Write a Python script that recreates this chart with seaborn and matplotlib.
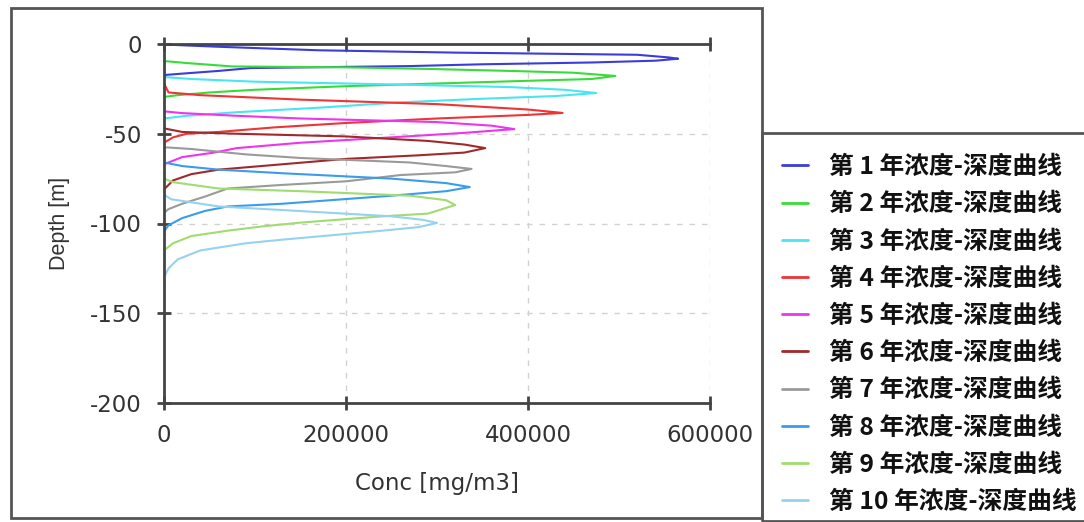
import matplotlib
matplotlib.use("Agg")
import matplotlib.pyplot as plt
from matplotlib.patches import Rectangle
from matplotlib.lines import Line2D
from matplotlib.font_manager import FontProperties
import numpy as np
import pandas as pd
import seaborn as sns

# Concentration (mg/m3) and depth (m) profiles for each simulated year
conc_y1 = [0, 58000, 170000, 320000, 520000, 555000, 565000, 540000, 470000, 350000, 270000, 95000, 60000, 20000, 0]
depth_y1 = [-0.3, -1.5, -3.5, -4.8, -6.0, -7.5, -8.2, -9.3, -10.3, -11.3, -12.3, -13.4, -15.0, -16.5, -17.3]

conc_y2 = [0, 25000, 75000, 200000, 300000, 380000, 450000, 496000, 470000, 400000, 300000, 200000, 100000, 50000, 15000, 0]
depth_y2 = [-9.5, -10.6, -12.5, -13.0, -14.0, -15.0, -16.0, -17.8, -19.5, -20.5, -22.0, -23.5, -25.5, -27.0, -28.5, -29.5]

conc_y3 = [0, 30000, 100000, 250000, 380000, 440000, 475000, 430000, 350000, 260000, 170000, 80000, 25000, 0]
depth_y3 = [-18.4, -19.5, -21.0, -22.5, -24.0, -25.5, -27.3, -29.0, -30.5, -32.5, -35.5, -38.0, -40.0, -41.5]

conc_y4 = [0, 5000, 40000, 150000, 300000, 350000, 400000, 438000, 400000, 300000, 200000, 120000, 60000, 25000, 10000, 0]
depth_y4 = [-22.0, -27.0, -28.5, -31.0, -33.5, -35.0, -36.5, -38.4, -39.5, -41.5, -44.0, -46.5, -49.0, -50.0, -52.0, -55.0]

conc_y5 = [0, 20000, 80000, 150000, 300000, 360000, 385000, 330000, 250000, 150000, 80000, 55000, 20000, 5000, 0]
depth_y5 = [-37.5, -38.5, -40.0, -41.5, -43.5, -45.5, -47.4, -49.5, -52.0, -55.0, -58.0, -60.5, -63.0, -66.0, -67.0]

conc_y6 = [0, 20000, 80000, 200000, 290000, 330000, 353000, 330000, 280000, 200000, 130000, 60000, 30000, 10000, 0]
depth_y6 = [-47.0, -49.0, -50.0, -51.5, -54.0, -56.0, -58.0, -60.5, -62.0, -64.0, -67.0, -70.0, -72.5, -76.0, -81.0]

conc_y7 = [0, 30000, 90000, 150000, 270000, 310000, 338000, 320000, 260000, 200000, 130000, 70000, 45000, 20000, 5000, 0]
depth_y7 = [-57.5, -58.5, -61.5, -63.5, -66.0, -68.0, -69.6, -71.5, -73.0, -76.5, -78.5, -80.5, -85.0, -89.0, -92.0, -94.0]

conc_y8 = [0, 20000, 60000, 130000, 250000, 310000, 336000, 310000, 250000, 130000, 70000, 45000, 20000, 5000, 0]
depth_y8 = [-66.0, -68.0, -70.0, -72.0, -75.0, -77.5, -79.7, -82.0, -84.5, -89.0, -90.5, -93.0, -97.0, -101.0, -104.5]

conc_y9 = [0, 10000, 60000, 150000, 270000, 310000, 320000, 290000, 240000, 150000, 110000, 70000, 30000, 10000, 0]
depth_y9 = [-75.0, -77.0, -80.5, -82.0, -84.5, -87.0, -89.7, -94.5, -96.0, -99.5, -101.5, -104.0, -107.0, -111.0, -115.0]

conc_y10 = [0, 8000, 60000, 130000, 250000, 285000, 300000, 280000, 240000, 130000, 90000, 40000, 15000, 5000, 0]
depth_y10 = [-84.0, -86.5, -90.5, -92.5, -96.0, -98.0, -99.7, -102.0, -104.0, -109.0, -111.0, -115.0, -120.0, -125.0, -130.0]

years = list(range(1, 11))
labels = [f"第 {y} 年浓度-深度曲线" for y in years]
colors = ["#3c3cd8", "#38dc38", "#48e6f0", "#ee3434", "#ee34ee",
          "#a02a2a", "#9a9a9a", "#3a9cec", "#a0dc70", "#96d2f0"]

x_ticks = [0, 200000, 400000, 600000]
y_ticks = [0, -50, -100, -150, -200]

concs = [conc_y1, conc_y2, conc_y3, conc_y4, conc_y5, conc_y6, conc_y7, conc_y8, conc_y9, conc_y10]
depths = [depth_y1, depth_y2, depth_y3, depth_y4, depth_y5, depth_y6, depth_y7, depth_y8, depth_y9, depth_y10]

frames = []
for lab, c, d in zip(labels, concs, depths):
    frames.append(pd.DataFrame({"conc": c, "depth": d, "series": lab}))
df = pd.concat(frames, ignore_index=True)

sns.set_theme(style="white")
plt.rcParams["font.family"] = ["DejaVu Sans"]
plt.rcParams["axes.unicode_minus"] = False

W, H = 1084, 522
fig = plt.figure(figsize=(W / 100, H / 100), dpi=100)
fig.patch.set_facecolor("white")

def fx(px):
    return px / W

def fy(py):
    return 1 - py / H

ax = fig.add_axes([fx(164), fy(403), fx(710) - fx(164), fy(44) - fy(403)])

sns.lineplot(data=df, x="conc", y="depth", hue="series", units="series",
             estimator=None, sort=False, palette=dict(zip(labels, colors)),
             linewidth=1.5, legend=False, ax=ax)

ax.set_xlim(0, 600000)
ax.set_ylim(-200, 0)
ax.set_xticks(x_ticks)
ax.set_yticks(y_ticks)
ax.set_xticklabels([str(v) for v in x_ticks])
ax.set_yticklabels([str(v) for v in y_ticks])
ax.grid(True, linestyle=(0, (4, 5)), color="#d2d2d2", linewidth=1.0)

for side in ["left", "top", "bottom"]:
    ax.spines[side].set_visible(True)
    ax.spines[side].set_color("#444444")
    ax.spines[side].set_linewidth(2.0)
ax.spines["right"].set_visible(False)

ax.tick_params(axis="both", which="major", direction="inout", length=10, width=2,
               color="#444444", labelsize=16.5, labelcolor="#333333")
ax.tick_params(axis="x", top=True, labeltop=False, bottom=True, pad=10)
ax.tick_params(axis="y", left=True, pad=11)

ax.set_xlabel("Conc [mg/m3]", fontsize=16.5, color="#333333", labelpad=18)
ax.set_ylabel("Depth [m]", color="#333333", labelpad=14,
              fontproperties=FontProperties(family=["Liberation Sans", "DejaVu Sans"], size=15.5))

# Outer frames for the chart panel and the legend panel
fig.add_artist(Rectangle((fx(11), fy(518)), fx(762) - fx(11), fy(8) - fy(518),
                         transform=fig.transFigure, fill=False, edgecolor="#555555", linewidth=2))
fig.add_artist(Rectangle((fx(762), fy(521)), fx(1090) - fx(762), fy(133) - fy(521),
                         transform=fig.transFigure, fill=False, edgecolor="#555555", linewidth=2,
                         clip_on=False))

handles = [Line2D([0], [0], color=c, linewidth=2) for c in colors]
leg = fig.legend(handles, labels, loc="upper left", bbox_to_anchor=(fx(782), fy(155)),
                 frameon=False, borderpad=0, borderaxespad=0, handlelength=1.05,
                 handletextpad=0.85, labelspacing=0.535,
                 prop={"family": ["Noto Sans CJK SC", "DejaVu Sans"], "weight": "heavy", "size": 17.8})
for t in leg.get_texts():
    t.set_color("#111111")

fig.savefig("out.png", dpi=100, facecolor="white")
